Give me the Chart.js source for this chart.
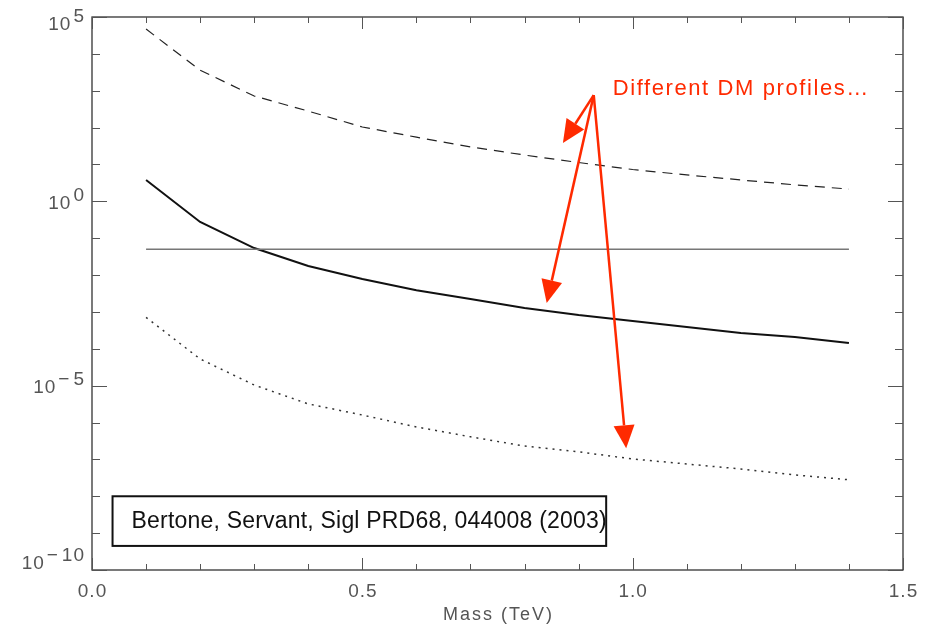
<!DOCTYPE html>
<html>
<head>
<meta charset="utf-8">
<script src="https://cdn.jsdelivr.net/npm/chart.js@4.4.1/dist/chart.umd.min.js"></script>
<style>
  html, body { margin: 0; padding: 0; background: #fff; }
  #wrap { width: 931px; height: 626px; }
</style>
</head>
<body>
<div id="wrap"><canvas id="dmChart" width="931" height="626"></canvas></div>
<script>
// values (mass in TeV, flux on log axis)
const mass = [0.1, 0.2, 0.3, 0.4, 0.5, 0.6, 0.7, 0.8, 0.9, 1.0, 1.1, 1.2, 1.3, 1.4];
const profileDashed = [47000, 3600, 720, 280, 104, 55, 30, 18, 11.3, 7.3, 5.2, 3.8, 2.8, 2.15];
const profileSolid = [3.8, 0.275, 0.054, 0.0176, 0.0078, 0.0039, 0.00224, 0.00128, 0.00082, 0.00057, 0.00039, 0.00027, 0.00021, 0.000144];
const profileDotted = [7.1e-4, 5.3e-5, 1.04e-5, 3.2e-6, 1.6e-6, 7.6e-7, 4.1e-7, 2.3e-7, 1.6e-7, 1.03e-7, 7.5e-8, 5.5e-8, 3.8e-8, 2.8e-8];
const flatMass = [0.1, 1.4];
const flatLevel = [0.05, 0.05];

const xTickLabels = ['0.0', '0.5', '1.0', '1.5'];
const yTickExponents = [-10, -5, 0, 5];
const xTitle = 'Mass (TeV)';
const noteText = 'Different DM profiles\u2026';
const refText = 'Bertone, Servant, Sigl PRD68, 044008 (2003)';

function pts(xs, ys) {
    return xs.map((x, i) => ({ x: x, y: ys[i] }));
}

// draws the IDL style frame, inward ticks, labels and the red arrows
const idlFrame = {
    id: 'idlFrame',
    afterDraw(chart) {
        const ctx = chart.ctx;
        const a = chart.chartArea;
        const xs = chart.scales.x;
        const ys = chart.scales.y;
        const seg = (x1, y1, x2, y2) => { ctx.beginPath(); ctx.moveTo(x1, y1); ctx.lineTo(x2, y2); ctx.stroke(); };
        ctx.save();

        ctx.strokeStyle = '#333';
        ctx.lineWidth = 1.3;
        ctx.strokeRect(a.left, a.top, a.right - a.left, a.bottom - a.top);

        ctx.strokeStyle = '#555';
        ctx.lineWidth = 1;
        for (let i = 0; i <= 15; i++) {
            const px = Math.round(xs.getPixelForValue(i / 10)) + 0.5;
            const len = i % 5 === 0 ? 12 : 6;
            seg(px, a.bottom, px, a.bottom - len);
            seg(px, a.top, px, a.top + len);
        }
        for (let e = -10; e <= 5; e++) {
            const py = Math.round(ys.getPixelForValue(Math.pow(10, e))) + 0.5;
            const len = e % 5 === 0 ? 15 : 8;
            seg(a.left, py, a.left + len, py);
            seg(a.right, py, a.right - len, py);
        }

        // tick labels
        ctx.fillStyle = '#555';
        ctx.font = '19px "Liberation Sans", Arial, sans-serif';
        ctx.letterSpacing = '1px';
        ctx.textAlign = 'center';
        ctx.textBaseline = 'middle';
        xTickLabels.forEach(t => {
            ctx.fillText(t, xs.getPixelForValue(parseFloat(t)) + 0.5, a.bottom + 22);
        });
        ctx.font = '18px "Liberation Sans", Arial, sans-serif';
        ctx.letterSpacing = '2px';
        ctx.fillText(xTitle, (a.left + a.right) / 2 + 1, a.bottom + 45);

        ctx.font = '19px "Liberation Sans", Arial, sans-serif';
        ctx.letterSpacing = '1px';
        ctx.textAlign = 'left';
        yTickExponents.forEach(e => {
            const py = ys.getPixelForValue(Math.pow(10, e));
            const cy = Math.min(Math.max(py + 2, a.top + 8), a.bottom - 6);
            const sup = e < 0 ? '\u2212' + Math.abs(e) : String(e);
            const wb = ctx.measureText('10').width;
            const ws = ctx.measureText(sup).width + (e < 0 ? 3 : 0);
            const x0 = a.left - 7 - ws - 2 - wb;
            ctx.fillText('10', x0, cy);
            if (e < 0) {
                ctx.fillText('\u2212', x0 + wb + 2, cy - 8);
                ctx.fillText(String(Math.abs(e)), x0 + wb + 2 + ctx.measureText('\u2212').width + 3, cy - 8);
            } else {
                ctx.fillText(sup, x0 + wb + 2, cy - 8);
            }
        });
        ctx.letterSpacing = '0px';

        // red arrows and note
        const red = '#ff2a00';
        const from = { x: 0.928, y: 760 };
        const tips = [{ x: 0.871, y: 38 }, { x: 0.841, y: 1.74e-3 }, { x: 0.988, y: 2.0e-7 }];
        const ox = xs.getPixelForValue(from.x), oy = ys.getPixelForValue(from.y);
        ctx.strokeStyle = red;
        ctx.fillStyle = red;
        ctx.lineWidth = 2.5;
        tips.forEach(t => {
            const tx = xs.getPixelForValue(t.x), ty = ys.getPixelForValue(t.y);
            const ang = Math.atan2(ty - oy, tx - ox);
            const hl = 23, hw = 10.5;
            const bx = tx - hl * Math.cos(ang), by = ty - hl * Math.sin(ang);
            seg(ox, oy, bx, by);
            ctx.beginPath();
            ctx.moveTo(tx, ty);
            ctx.lineTo(bx + hw * Math.sin(ang), by - hw * Math.cos(ang));
            ctx.lineTo(bx - hw * Math.sin(ang), by + hw * Math.cos(ang));
            ctx.closePath();
            ctx.fill();
        });
        ctx.font = '22px "Liberation Sans", Arial, sans-serif';
        ctx.letterSpacing = '1.6px';
        ctx.textBaseline = 'middle';
        ctx.fillText(noteText, xs.getPixelForValue(0.963), ys.getPixelForValue(1100));
        ctx.letterSpacing = '0px';

        // reference box
        const bx1 = xs.getPixelForValue(0.038), bx2 = xs.getPixelForValue(0.951);
        const by1 = ys.getPixelForValue(1e-8), by2 = ys.getPixelForValue(4.5e-10);
        ctx.fillStyle = '#fff';
        ctx.fillRect(bx1, by1, bx2 - bx1, by2 - by1);
        ctx.strokeStyle = '#111';
        ctx.lineWidth = 2;
        ctx.strokeRect(bx1, by1, bx2 - bx1, by2 - by1);
        ctx.fillStyle = '#111';
        ctx.font = '23px "Liberation Sans", Arial, sans-serif';
        ctx.letterSpacing = '0.2px';
        ctx.fillText(refText, bx1 + 19, (by1 + by2) / 2 + 1);

        ctx.restore();
    }
};

new Chart(document.getElementById('dmChart').getContext('2d'), {
    type: 'line',
    data: {
        datasets: [
            { data: pts(mass, profileDashed), borderColor: '#222', borderWidth: 1.2, borderDash: [10, 7] },
            { data: pts(flatMass, flatLevel), borderColor: '#777', borderWidth: 1.5 },
            { data: pts(mass, profileSolid), borderColor: '#111', borderWidth: 2 },
            { data: pts(mass, profileDotted), borderColor: '#333', borderWidth: 1.5, borderDash: [2, 5] }
        ]
    },
    options: {
        responsive: false,
        animation: false,
        layout: { padding: { left: 92, right: 28, top: 17, bottom: 56 } },
        elements: { point: { radius: 0 }, line: { tension: 0, fill: false } },
        scales: {
            x: { type: 'linear', min: 0, max: 1.5, display: false },
            y: { type: 'logarithmic', min: 1e-10, max: 1e5, display: false }
        },
        plugins: { legend: { display: false }, tooltip: { enabled: false } }
    },
    plugins: [idlFrame]
});
</script>
</body>
</html>
